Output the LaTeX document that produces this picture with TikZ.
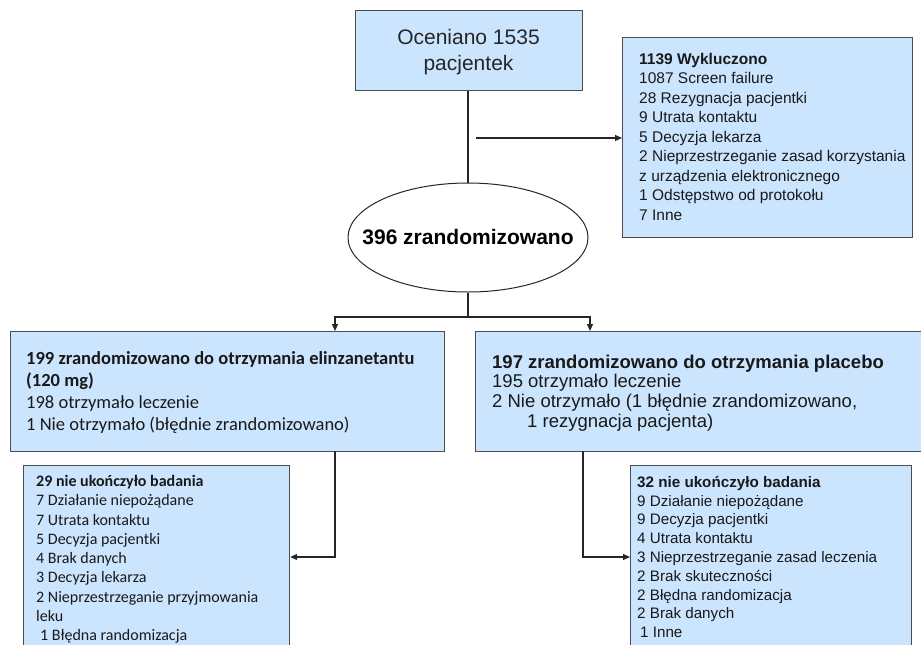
\documentclass[tikz,border=0pt]{standalone}
\usepackage{fontspec}
\setmainfont{Liberation Sans}
\newfontfamily\calibri{Carlito}
\usetikzlibrary{arrows.meta,shapes.geometric}
\definecolor{boxfill}{HTML}{CCE5FF}
\definecolor{boxline}{HTML}{4D4D4D}
\tikzset{
  box/.style={draw=boxline, line width=1.2pt, fill=boxfill, rectangle, inner sep=0pt, anchor=north west},
  txt/.style={anchor=north west, inner sep=0pt, align=left, text=black!90},
  conn/.style={draw=black!85, line width=1.2pt},
  arr/.style={conn, -{Triangle[length=7pt,width=6pt]}}
}
\begin{document}
\begin{tikzpicture}[x=1pt,y=-1pt]
\useasboundingbox (0,0) rectangle (921,645);
% boxes
\node[box, minimum width=227pt, minimum height=80pt] (top) at (355,10) {};
\node[align=center, inner sep=0pt, font=\fontsize{21}{25.5}\selectfont, text=black!85] (topT) at (468.5,52) {Oceniano 1535\\pacjentek};
\node[box, minimum width=290pt, minimum height=200pt] (excl) at (622,37) {};
\node[txt, font=\fontsize{15.5}{19.5}\selectfont] (exclT) at (639,53) {\textbf{1139 Wykluczono}\\1087 Screen failure\\28 Rezygnacja pacjentki\\9 Utrata kontaktu\\5 Decyzja lekarza\\2 Nieprzestrzeganie zasad korzystania\\z urządzenia elektronicznego\\1 Odstępstwo od protokołu\\7 Inne};
\node[draw=black!85, line width=1pt, ellipse, minimum width=240pt, minimum height=109pt, inner sep=0pt] (rand) at (468,237.5) {};
\node[inner sep=0pt, font=\bfseries\fontsize{21}{25}\selectfont] (randT) at (rand.center) {396 zrandomizowano};
\node[box, minimum width=434pt, minimum height=120pt] (left) at (10,331) {};
\node[txt, font=\calibri\fontsize{18.5}{22}\selectfont] (leftT) at (26,351.5) {\textbf{199 zrandomizowano do otrzymania elinzanetantu}\\\textbf{(120 mg)}\\198 otrzymało leczenie\\1 Nie otrzymało (błędnie zrandomizowano)};
\node[box, minimum width=460pt, minimum height=120pt] (right) at (475,331) {};
\node[txt, font=\fontsize{18.5}{19.7}\selectfont] (rightT) at (492,354.5) {\textbf{197 zrandomizowano do otrzymania placebo}\\195 otrzymało leczenie\\2 Nie otrzymało (1 błędnie zrandomizowano,\\\hspace*{35pt}1 rezygnacja pacjenta)};
\node[box, minimum width=266pt, minimum height=200pt] (ll) at (23,465) {};
\node[txt, font=\calibri\fontsize{16}{19.3}\selectfont] (llT) at (36,475) {\textbf{29 nie ukończyło badania}\\7 Działanie niepożądane\\7 Utrata kontaktu\\5 Decyzja pacjentki\\4 Brak danych\\3 Decyzja lekarza\\2 Nieprzestrzeganie przyjmowania\\leku\\\hspace*{4pt}1 Błędna randomizacja};
\node[box, minimum width=281pt, minimum height=200pt] (lr) at (630,465) {};
\node[txt, font=\fontsize{15.2}{18.8}\selectfont] (lrT) at (637,476) {\textbf{32 nie ukończyło badania}\\9 Działanie niepożądane\\9 Decyzja pacjentki\\4 Utrata kontaktu\\3 Nieprzestrzeganie zasad leczenia\\2 Brak skuteczności\\2 Błędna randomizacja\\2 Brak danych\\\hspace*{3pt}1 Inne};
% connectors
\draw[conn] (top.south -| rand.north) -- (rand.north);
\coordinate (exS) at (476,138);
\draw[arr] (exS) -- (excl.west |- exS);
\coordinate (split) at (468,317);
\draw[conn] (rand.south) -- (split);
\draw[arr] (split) -| (335,331);
\draw[arr] (split) -| (590,331);
\coordinate (lb) at (335,451);
\coordinate (rb) at (583,451);
\draw[arr] (lb) |- (ll.east |- 0,557);
\draw[arr] (rb) |- (lr.west |- 0,557);
\end{tikzpicture}
\end{document}
